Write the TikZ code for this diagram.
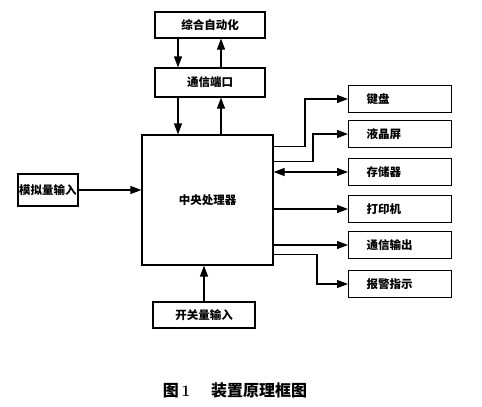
\documentclass[tikz,border=0pt]{standalone}
\usepackage{fontspec}
\newfontfamily\cjk{Noto Sans CJK SC}
\usetikzlibrary{arrows.meta,positioning}
\tikzset{
  blk/.style={rectangle, draw, line width=1.2pt, font=\cjk\bfseries\fontsize{11.5}{13}\selectfont, inner sep=0pt},
  dev/.style={blk, minimum width=103pt, minimum height=27pt, text width=67pt, inner xsep=18pt, align=left},
  arrow/.style={-{Triangle[length=11pt,width=8pt]}, line width=1.2pt},
  darrow/.style={{Triangle[length=11pt,width=8pt]}-{Triangle[length=11pt,width=8pt]}, line width=1.2pt}
}

\begin{document}
\begin{tikzpicture}[x=1pt, y=-1pt]
  \useasboundingbox (0,0) rectangle (482,407);
  \node[blk, minimum width=110pt, minimum height=26pt] (auto) at (210,25) {综合自动化};
  \node[blk, minimum width=110pt, minimum height=29pt] (port) at (210,82.5) {通信端口};
  \node[blk, minimum width=131pt, minimum height=130pt] (cpu) at (207.5,200) {中央处理器};
  \node[blk, minimum width=60pt, minimum height=32pt] (analog) at (48,190) {模拟量输入};
  \node[blk, minimum width=102pt, minimum height=26pt] (switch) at (204,315) {开关量输入};
  % peripherals
  \node[dev, anchor=west] (key) at (348,99) {键盘};
  \node[dev, anchor=west] (lcd) at (348,134) {液晶屏};
  \node[dev, anchor=west] (mem) at (348,172) {存储器};
  \node[dev, anchor=west] (prn) at (348,209) {打印机};
  \node[dev, anchor=west] (comm) at (348,245) {通信输出};
  \node[dev, anchor=west] (alarm) at (348,284) {报警指示};
  % top links
  \draw[arrow] ([xshift=-32pt]auto.south) -- ([xshift=-32pt]port.north);
  \draw[arrow] ([xshift=11pt]port.north) -- ([xshift=11pt]auto.south);
  \draw[arrow] ([xshift=-32pt]port.south) coordinate (p1) -- (p1 |- cpu.north);
  \draw[arrow] ([xshift=11pt]port.south |- cpu.north) -- ([xshift=11pt]port.south);
  % inputs
  \draw[arrow] (analog) -- (analog -| cpu.west);
  \draw[arrow] (switch.north) -- (switch.north |- cpu.south);
  % outputs
  \draw[arrow] ([yshift=-12pt]cpu.north east) -| ([xshift=-43pt]key.west) -- (key.west);
  \draw[arrow] ([yshift=-27pt]cpu.north east) -| ([xshift=-35pt]lcd.west) -- (lcd.west);
  \draw[darrow] (cpu.east |- mem.west) -- (mem.west);
  \draw[arrow] (cpu.east |- prn.west) -- (prn.west);
  \draw[arrow] (cpu.east |- comm.west) -- (comm.west);
  \draw[arrow] ([yshift=-120pt]cpu.north east) -| ([xshift=-31pt]alarm.west) -- (alarm.west);
  % caption
  \node[font=\fontsize{16}{18}\selectfont] (cap) at (235,390)
    {{\cjk\bfseries 图}\,{\bfseries 1}\hspace{1.3em}{\cjk\bfseries 装置原理框图}};
\end{tikzpicture}
\end{document}
